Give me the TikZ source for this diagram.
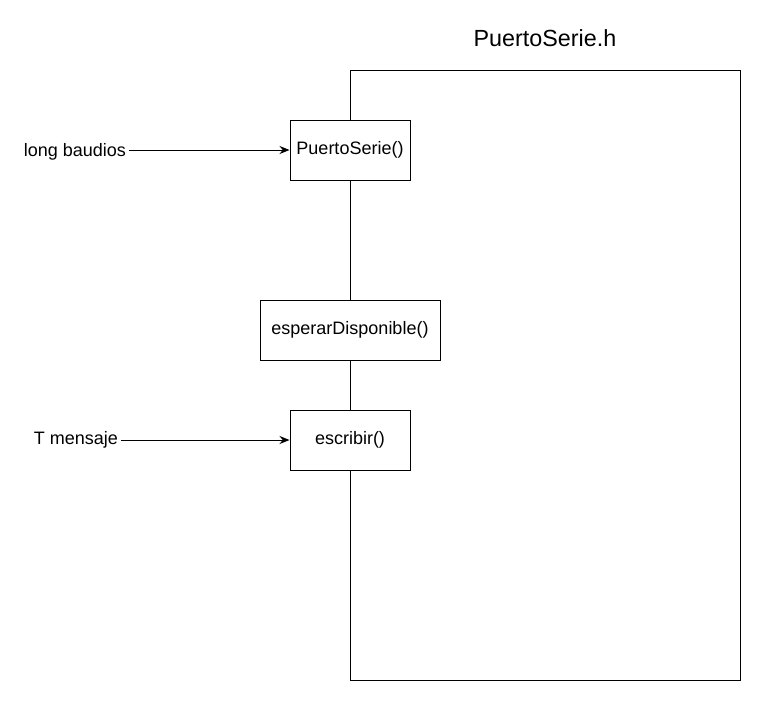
\documentclass[tikz,border=0pt]{standalone}
\usepackage{fontspec}
\setmainfont{Liberation Sans}
\usepackage{tikz}
\usetikzlibrary{positioning}
\usetikzlibrary{arrows.meta}

\begin{document}
\begin{tikzpicture}[x=0.75pt, y=-0.75pt, line width=0.75pt,
  caja/.style={draw, fill=white, minimum height=45pt, inner sep=0pt,
    font=\fontsize{13.5pt}{16pt}\selectfont},
  etiqueta/.style={inner sep=2pt, font=\fontsize{13.5pt}{16pt}\selectfont},
  flecha/.style={-{Stealth[length=7.5pt, width=6pt]}}]

\useasboundingbox (0,0) rectangle (761,701);

% Draw the class frame
\draw (350,70) rectangle (740,680);
\node[font=\fontsize{17.5pt}{21pt}\selectfont] (titulo) at (545,38) {PuertoSerie.h};

% Draw the methods
\node[caja, minimum width=90pt] (puerto) at (350,150) {PuertoSerie()};
\node[caja, minimum width=135pt] (esperar) at (350,330) {esperarDisponible()};
\node[caja, minimum width=90pt] (escribir) at (350,440) {escribir()};

% Draw the parameters
\node[etiqueta] (baudios) at (75,152) {long baudios};
\node[etiqueta] (mensaje) at (76,440) {T mensaje};

\draw[flecha] (baudios.east |- puerto) -- (puerto.west);
\draw[flecha] (mensaje.east |- escribir) -- (escribir.west);

\end{tikzpicture}
\end{document}
